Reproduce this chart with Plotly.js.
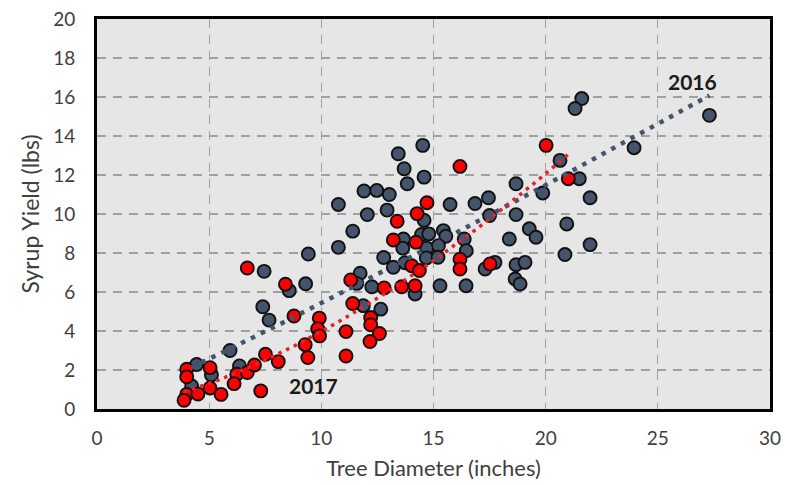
<!DOCTYPE html>
<html>
<head>
<meta charset="utf-8">
<script src="https://cdn.plot.ly/plotly-3.0.1.min.js"></script>
<style>html,body{margin:0;padding:0;background:#fff;}#chart{width:785px;height:485px;}</style>
</head>
<body>
<div id="chart"></div>
<script>
// 2016 trees
const dia2016 = [9.42,7.45,8.57,9.30,7.39,7.67,5.93,4.44,5.10,6.35,4.22,
  14.52,13.43,13.69,14.58,13.83,11.90,12.47,13.03,10.76,12.05,12.93,14.58,15.74,16.85,17.45,17.50,
  11.40,10.76,13.66,13.63,14.47,14.79,15.44,15.55,16.37,16.46,14.70,15.22,14.68,15.20,12.78,13.73,
  11.73,11.58,12.25,14.18,15.29,16.45,11.87,12.65,
  21.61,21.31,27.30,23.94,20.64,21.50,18.68,19.87,21.98,18.68,19.27,19.57,18.38,20.94,21.98,20.86,
  18.68,19.08,18.64,18.86,17.74,17.30,13.21];
const yield2016 = [7.95,7.06,6.07,6.42,5.24,4.56,3.00,2.28,1.75,2.21,1.18,
  13.52,13.09,12.32,11.89,11.55,11.18,11.21,11.00,10.49,9.97,10.20,9.68,10.49,10.54,10.83,9.92,
  9.12,8.29,8.72,8.25,8.95,8.98,9.15,8.86,8.72,8.12,8.25,8.38,7.75,7.78,7.77,7.50,
  6.96,6.44,6.27,5.90,6.32,6.32,5.30,5.12,
  15.92,15.41,15.06,13.40,12.75,11.81,11.55,11.08,10.83,9.97,9.24,8.81,8.72,9.49,8.43,7.92,
  7.40,7.52,6.67,6.41,7.52,7.18,7.27];
// 2017 trees
const dia2017 = [6.70,8.40,8.78,9.91,9.84,9.92,7.51,8.08,9.28,9.40,
  4.00,4.00,5.04,6.23,6.11,6.70,7.02,7.30,4.00,3.88,4.50,5.04,5.53,
  16.18,14.71,14.27,13.38,13.21,14.22,16.18,16.18,14.03,14.37,11.31,12.80,13.58,14.18,
  11.40,12.20,12.20,12.59,12.17,11.10,11.10,17.52,20.02,21.01];
const yield2017 = [7.23,6.40,4.77,4.66,4.12,3.75,2.81,2.43,3.30,2.64,
  2.04,1.65,2.12,1.78,1.30,1.87,2.26,0.93,0.75,0.45,0.77,1.08,0.75,
  12.44,10.58,10.02,9.63,8.67,8.55,7.68,7.18,7.35,7.10,6.62,6.21,6.27,6.32,
  5.41,4.69,4.32,3.87,3.46,3.97,2.72,7.44,13.52,11.81];
const xTicks = [0,5,10,15,20,25,30];
const yTicks = [0,2,4,6,8,10,12,14,16,18,20];
const labels = ["2016","2017"];
// power trendlines y = a * x^b, coefficients
const trendA = [0.449, 0.0991];
const trendB = [1.082, 1.603];

function powerCurve(xs, a, b){
  const x0=Math.min(...xs), x1=Math.max(...xs);
  const px=[], py=[];
  for(let k=0;k<=60;k++){const x=x0+(x1-x0)*k/60; px.push(x); py.push(a*Math.pow(x,b));}
  return {x:px, y:py};
}
const t16 = powerCurve(dia2016, trendA[0], trendB[0]);
const t17 = powerCurve(dia2017, trendA[1], trendB[1]);

const darkCol = '#44546A', redCol = '#FF0000';
const traces = [
  {x:dia2016, y:yield2016, mode:'markers', type:'scatter', name:labels[0],
   marker:{size:13, color:darkCol, line:{color:'#111', width:1.9}}},
  {x:dia2017, y:yield2017, mode:'markers', type:'scatter', name:labels[1],
   marker:{size:13, color:redCol, line:{color:'#111', width:1.9}}},
  {x:t16.x, y:t16.y, mode:'lines', type:'scatter', line:{color:darkCol, width:4.5, dash:'4.5px,6.5px'}, hoverinfo:'skip'},
  {x:t17.x, y:t17.y, mode:'lines', type:'scatter', line:{color:'#E8202A', width:3.5, dash:'3.5px,5px'}, hoverinfo:'skip'}
];
const fontFam = 'Lato, "Open Sans", sans-serif';
const layout = {
  width:785, height:485,
  margin:{l:97, r:15, t:19, b:76},
  paper_bgcolor:'#ffffff', plot_bgcolor:'#E7E6E6',
  showlegend:false,
  font:{family:fontFam, color:'#404040', size:19},
  xaxis:{range:[0,30], tickvals:xTicks, ticktext:xTicks.map(String),
    showline:true, mirror:true, linecolor:'#000', linewidth:3,
    showgrid:true, gridcolor:'#A0A0A0', gridwidth:1.3, griddash:'9px,7px', zeroline:false,
    ticks:'', ticklabelstandoff:10, tickfont:{size:19, color:'#404040'},
    title:{text:'Tree Diameter (inches)', font:{size:22, color:'#404040'}, standoff:13}},
  yaxis:{range:[0,20], tickvals:yTicks, ticktext:yTicks.map(String),
    showline:true, mirror:true, linecolor:'#000', linewidth:3,
    showgrid:true, gridcolor:'#A0A0A0', gridwidth:1.3, griddash:'9px,7px', zeroline:false,
    ticks:'', ticklabelstandoff:15, tickfont:{size:19, color:'#404040'},
    title:{text:'Syrup Yield (lbs)', font:{size:23, color:'#404040'}, standoff:8}},
  annotations:[
    {x:26.55, y:16.8, xref:'x', yref:'y', text:'<b>'+labels[0]+'</b>', showarrow:false, font:{size:21, color:'#1a1a1a', family:fontFam}},
    {x:9.63, y:1.18, xref:'x', yref:'y', text:'<b>'+labels[1]+'</b>', showarrow:false, font:{size:21, color:'#1a1a1a', family:fontFam}}
  ]
};
Plotly.newPlot('chart', traces, layout, {displayModeBar:false, staticPlot:true});
</script>
</body>
</html>
